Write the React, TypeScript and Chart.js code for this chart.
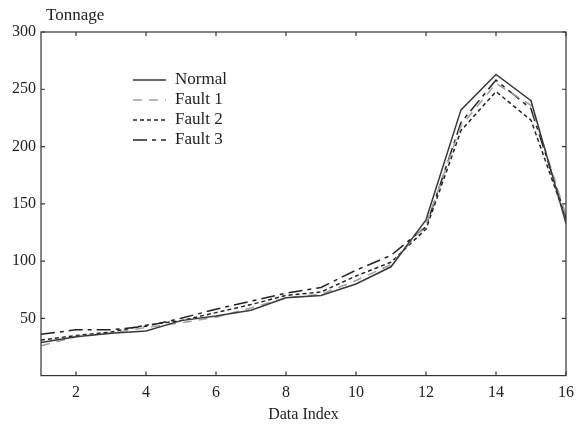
import React, { useEffect, useRef } from "react";
import { Chart, registerables } from "chart.js";

Chart.register(...registerables);

const dataIndex = [1, 2, 3, 4, 5, 6, 7, 8, 9, 10, 11, 12, 13, 14, 15, 16];
const normal = [29, 34, 37, 39, 48, 52, 57, 68, 70, 80, 95, 136, 232, 263, 240, 133];
const fault1 = [26, 34, 37, 42, 46, 51, 59, 68, 71, 83, 97, 132, 218, 255, 236, 140];
const fault2 = [31, 35, 38, 44, 48, 55, 62, 70, 73, 87, 99, 128, 214, 248, 223, 137];
const fault3 = [36, 40, 40, 43, 50, 58, 65, 72, 77, 92, 105, 130, 221, 258, 233, 138];
const xTickValues = [2, 4, 6, 8, 10, 12, 14, 16];
const yTickValues = [50, 100, 150, 200, 250, 300];
const seriesNames = ["Normal", "Fault 1", "Fault 2", "Fault 3"];

const FONT = "'Liberation Serif', 'DejaVu Serif', serif";

const frameAndLegend = {
  id: "frameAndLegend",
  afterDraw(chart: any) {
    const ctx = chart.ctx;
    const { left, right, top, bottom } = chart.chartArea;
    const xs = chart.scales.x;
    const ys = chart.scales.y;
    ctx.save();
    ctx.strokeStyle = "#333";
    ctx.lineWidth = 1.2;
    ctx.setLineDash([]);
    ctx.strokeRect(left, top, right - left, bottom - top);
    const tl = 4;
    ctx.beginPath();
    xTickValues.forEach((v) => {
      const px = xs.getPixelForValue(v);
      ctx.moveTo(px, bottom);
      ctx.lineTo(px, bottom - tl);
      ctx.moveTo(px, top);
      ctx.lineTo(px, top + tl);
    });
    yTickValues.forEach((v) => {
      const py = ys.getPixelForValue(v);
      ctx.moveTo(left, py);
      ctx.lineTo(left + tl, py);
      ctx.moveTo(right, py);
      ctx.lineTo(right - tl, py);
    });
    ctx.stroke();

    // y-axis label
    ctx.fillStyle = "#222";
    ctx.font = "17px " + FONT;
    ctx.textAlign = "left";
    ctx.textBaseline = "middle";
    ctx.fillText("Tonnage", 46, 16);

    // legend
    const lx0 = 133;
    const lx1 = 166;
    const ty = 80;
    const gap = 20;
    chart.data.datasets.forEach((ds: any, i: number) => {
      const y = ty + i * gap;
      ctx.strokeStyle = ds.borderColor;
      ctx.lineWidth = ds.borderWidth;
      ctx.setLineDash(ds.borderDash || []);
      ctx.beginPath();
      ctx.moveTo(lx0, y);
      ctx.lineTo(lx1, y);
      ctx.stroke();
      ctx.setLineDash([]);
      ctx.fillStyle = "#222";
      ctx.font = "17px " + FONT;
      ctx.textBaseline = "middle";
      ctx.fillText(ds.label, 175, y);
    });
    ctx.restore();
  },
};

const bgPlugin = {
  id: "bg",
  beforeDraw(chart: any) {
    const ctx = chart.ctx;
    ctx.save();
    ctx.fillStyle = "#fff";
    ctx.fillRect(0, 0, chart.width, chart.height);
    ctx.restore();
  },
};

export default function App() {
  const ref = useRef<HTMLCanvasElement>(null);
  useEffect(() => {
    const mk = (vals: number[]) => dataIndex.map((x, i) => ({ x, y: vals[i] }));
    const chart = new Chart(ref.current!, {
      type: "line",
      data: {
        datasets: [
          { label: seriesNames[0], data: mk(normal), borderColor: "#3a3a3a", borderWidth: 1.5, borderDash: [], pointRadius: 0, fill: false, tension: 0 },
          { label: seriesNames[1], data: mk(fault1), borderColor: "#a0a0a0", borderWidth: 1.5, borderDash: [9, 7], pointRadius: 0, fill: false, tension: 0 },
          { label: seriesNames[2], data: mk(fault2), borderColor: "#222", borderWidth: 1.5, borderDash: [4, 3], pointRadius: 0, fill: false, tension: 0 },
          { label: seriesNames[3], data: mk(fault3), borderColor: "#222", borderWidth: 1.5, borderDash: [14, 5, 4, 5], pointRadius: 0, fill: false, tension: 0 },
        ],
      },
      options: {
        animation: false,
        responsive: false,
        layout: { padding: { left: 7, right: 14, top: 32, bottom: 1 } },
        plugins: { legend: { display: false }, tooltip: { enabled: false } },
        scales: {
          x: {
            type: "linear",
            min: 1,
            max: 16,
            afterBuildTicks: (s: any) => {
              s.ticks = xTickValues.map((v) => ({ value: v }));
            },
            afterFit: (s: any) => {
              s.paddingRight = 0;
            },
            grid: { display: false, drawTicks: false },
            border: { display: false },
            ticks: { color: "#222", font: { family: FONT, size: 16 }, padding: 8, maxRotation: 0 },
            title: { display: true, text: "Data Index", color: "#222", font: { family: FONT, size: 16 }, padding: { top: -6, bottom: 0 } },
          },
          y: {
            type: "linear",
            min: 0,
            max: 300,
            afterBuildTicks: (s: any) => {
              s.ticks = yTickValues.map((v) => ({ value: v }));
            },
            grid: { display: false, drawTicks: false },
            border: { display: false },
            ticks: { color: "#222", font: { family: FONT, size: 16 }, padding: 5 },
          },
        },
      },
      plugins: [bgPlugin, frameAndLegend],
    });
    return () => chart.destroy();
  }, []);
  return (
    <div style={{ position: "fixed", left: 0, top: 0, width: 580, height: 425, background: "#fff" }}>
      <canvas ref={ref} width={580} height={425} style={{ width: 580, height: 425 }} />
    </div>
  );
}
